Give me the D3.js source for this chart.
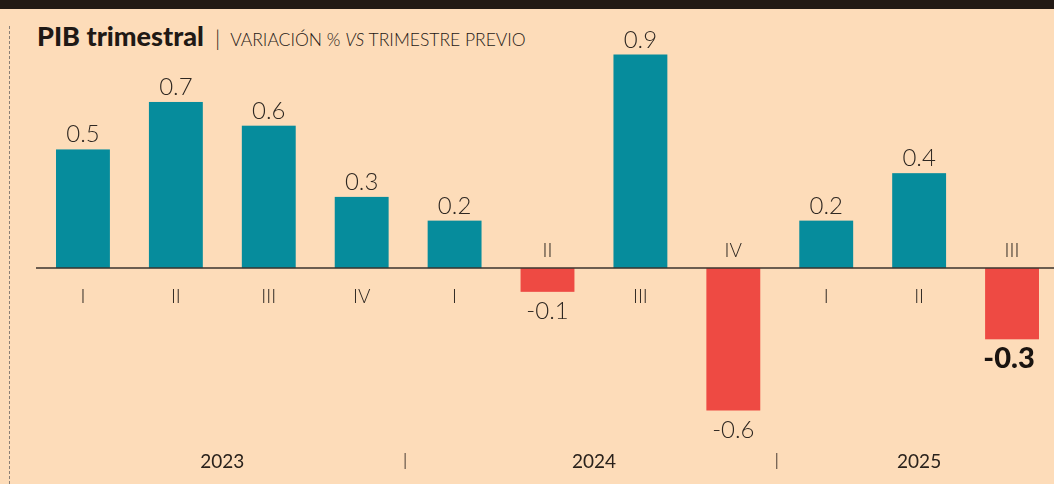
<!DOCTYPE html>
<html>
<head>
<meta charset="utf-8">
<script src="https://cdn.jsdelivr.net/npm/d3@7"></script>
<style>
  html, body { margin: 0; padding: 0; background: #fddcb9; }
  svg { display: block; }
</style>
</head>
<body>
<script>
const width = 1054;
const height = 484;

// quarterly data
const quarters = ['I', 'II', 'III', 'IV', 'I', 'II', 'III', 'IV', 'I', 'II', 'III'];
const values = [0.5, 0.7, 0.6, 0.3, 0.2, -0.1, 0.9, -0.6, 0.2, 0.4, -0.3];
const years = ['2023', '2024', '2025'];
const yearStart = [0, 4, 8];
const yearEnd = [3, 7, 10];

const teal = '#068c9c';
const red = '#ee4a43';
const ink = '#2f2822';

const fmt = d => (d < 0 ? '-' : '') + Math.abs(d).toFixed(1);

const svg = d3.select('body').append('svg')
  .attr('width', width)
  .attr('height', height);

// plain filter so thin glyphs get greyscale smoothing
svg.append('defs').append('filter').attr('id', 'soft')
  .append('feOffset').attr('dx', 0).attr('dy', 0);

svg.append('rect').attr('width', width).attr('height', height).attr('fill', '#fddcb9');

// top band
svg.append('rect').attr('x', 0).attr('y', 0).attr('width', width).attr('height', 9).attr('fill', '#231a14');

// dotted left rule
svg.append('line')
  .attr('x1', 9.5).attr('x2', 9.5).attr('y1', 26).attr('y2', height)
  .attr('stroke', '#8a7f76').attr('stroke-width', 1).attr('stroke-dasharray', '3,2');

const x = d3.scaleBand()
  .domain(d3.range(values.length))
  .range([36.5, 1058.5])
  .paddingInner(0.42)
  .paddingOuter(0.21);

const y = d3.scaleLinear()
  .domain([-0.6, 0.9])
  .range([410.5, 54.5]);

// title
const title = svg.append('text')
  .attr('x', 37).attr('y', 46)
  .style('font-family', 'Lato, "Open Sans", sans-serif')
  .attr('fill', '#1f1915');
title.append('tspan').style('font-weight', 900).style('font-size', '27px').text('PIB trimestral');
title.append('tspan').attr('dx', 11).style('font-weight', 300).style('font-size', '22px').text('|');
title.append('tspan').attr('dx', 10).style('font-weight', 300).style('font-size', '17.5px').text('VARIACIÓN % ');
title.append('tspan').style('font-weight', 300).style('font-size', '17.5px').style('font-style', 'italic').text('VS');
title.append('tspan').style('font-weight', 300).style('font-size', '17.5px').text(' TRIMESTRE PREVIO');

const g = svg.append('g');

g.selectAll('rect.bar')
  .data(values)
  .enter().append('rect')
  .attr('class', 'bar')
  .attr('x', (d, i) => x(i))
  .attr('width', x.bandwidth())
  .attr('y', d => y(Math.max(0, d)))
  .attr('height', d => Math.abs(y(d) - y(0)))
  .attr('fill', d => d >= 0 ? teal : red);

// baseline
g.append('line')
  .attr('x1', 36).attr('x2', width)
  .attr('y1', y(0)).attr('y2', y(0))
  .attr('stroke', '#3a332e').attr('stroke-width', 1.5);

const labels = g.append('g').attr('filter', 'url(#soft)');

// quarter labels
labels.selectAll('text.q')
  .data(quarters)
  .enter().append('text')
  .attr('class', 'q')
  .attr('x', (d, i) => x(i) + x.bandwidth() / 2)
  .attr('y', (d, i) => values[i] >= 0 ? y(0) + 35 : y(0) - 11)
  .attr('text-anchor', 'middle')
  .style('font-family', 'Lato, sans-serif')
  .style('font-weight', 300)
  .style('font-size', '19px')
  .attr('fill', ink)
  .text(d => d);

// value labels
const last = values.length - 1;
labels.selectAll('text.v')
  .data(values)
  .enter().append('text')
  .attr('class', 'v')
  .attr('x', (d, i) => x(i) + x.bandwidth() / 2 - (i === last ? 3 : 0))
  .attr('y', (d, i) => d >= 0 ? y(d) - 7 : y(d) + (i === last ? 29 : 27))
  .attr('text-anchor', 'middle')
  .style('font-family', 'Lato, sans-serif')
  .style('font-weight', (d, i) => i === last ? 900 : 300)
  .style('font-size', (d, i) => i === last ? '29px' : '24px')
  .attr('fill', (d, i) => i === last ? '#1a1410' : ink)
  .text(fmt);

// year labels
years.forEach((yr, k) => {
  const cx = (x(yearStart[k]) + x(yearEnd[k]) + x.bandwidth()) / 2;
  labels.append('text')
    .attr('x', cx).attr('y', 468)
    .attr('text-anchor', 'middle')
    .style('font-family', '"Liberation Sans Narrow", Lato, sans-serif')
    .style('font-weight', 400)
    .style('font-size', '19px')
    .attr('fill', '#2a221c')
    .text(yr);
  if (k > 0) {
    const sx = (x(yearEnd[k - 1]) + x.bandwidth() + x(yearStart[k])) / 2 - 3;
    g.append('line')
      .attr('x1', sx).attr('x2', sx).attr('y1', 453).attr('y2', 469)
      .attr('stroke', '#4a3d34').attr('stroke-width', 1);
  }
});
</script>
</body>
</html>
